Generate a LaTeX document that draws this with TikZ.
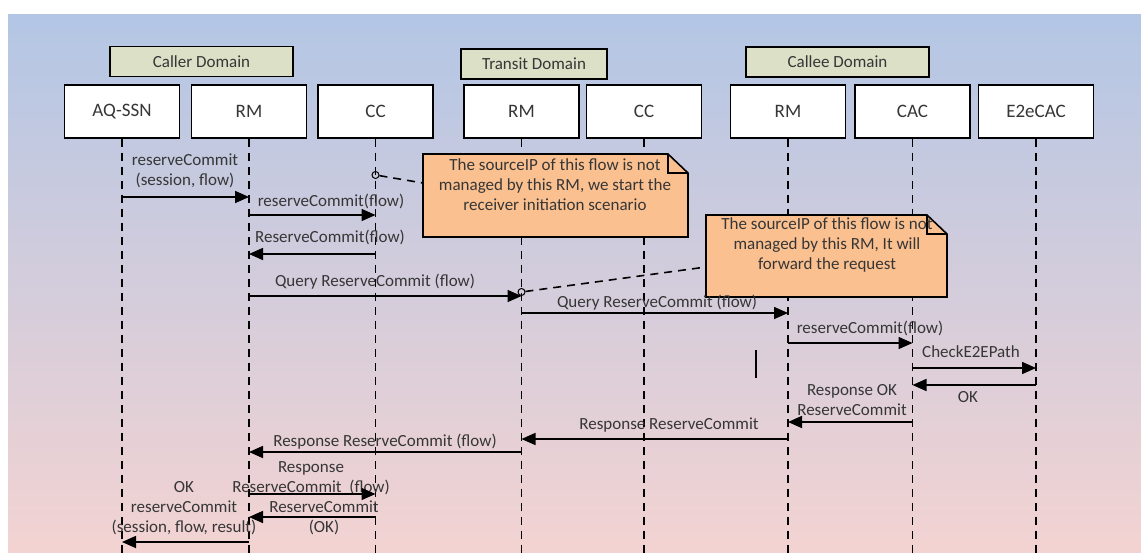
\documentclass[tikz,border=0pt]{standalone}
\usepackage{fontspec}
\setmainfont{Carlito}
\usetikzlibrary{arrows.meta}
\definecolor{bgtop}{HTML}{B3C6E5}
\definecolor{bgbot}{HTML}{F3D3D2}
\definecolor{notefill}{HTML}{FAC090}
\definecolor{domfill}{HTML}{DCE0C6}
\definecolor{txt}{HTML}{363636}
\begin{document}
\begin{tikzpicture}[x=1pt,y=-1pt,
  every node/.style={font=\fontsize{17}{20}\selectfont},
  party/.style={draw=black,line width=1.6pt,fill=white,minimum width=115pt,minimum height=53pt,inner sep=0pt,text=txt,font=\fontsize{19}{22}\selectfont},
  dombox/.style={draw=black,line width=1.6pt,fill=domfill,minimum height=30pt,inner sep=0pt,text=txt},
  life/.style={line width=1.6pt,dash pattern=on 8pt off 6pt},
  msg/.style={line width=1.6pt,-{Triangle[length=14pt,width=12pt]}},
  lbl/.style={text=txt,align=center,inner sep=0pt},
  notebox/.style={draw=black,line width=1.6pt,fill=notefill},
  hookmark/.style={circle,draw=black,line width=1pt,fill=none,minimum size=7pt,inner sep=0pt}]
\useasboundingbox (0,0) rectangle (1141,554);
\fill[white] (0,0) rectangle (1141,554);
\shade[top color=bgtop,bottom color=bgbot] (8,14) rectangle (1141,552);

\node[dombox,minimum width=183pt] (callerdom) at (201.5,61.5) {Caller Domain};
\node[dombox,minimum width=146pt] (transitdom) at (534,64) {Transit Domain};
\node[dombox,minimum width=183pt] (calleedom) at (837.5,62) {Callee Domain};

\node[party] (aqssn) at (122,111.5) {AQ-SSN};
\node[party] (rmA) at (249,111.5) {RM};
\node[party] (ccA) at (375.5,111.5) {CC};
\node[party] (rmB) at (521.5,111.5) {RM};
\node[party] (ccB) at (644,111.5) {CC};
\node[party] (rmC) at (788,111.5) {RM};
\node[party] (cac) at (912.5,111.5) {CAC};
\node[party] (e2e) at (1036,111.5) {E2eCAC};

\draw[life] (aqssn.south) -- (aqssn.south |- 0,554);
\draw[life] (rmA.south) -- (rmA.south |- 0,554);
\draw[life] (ccA.south) -- (ccA.south |- 0,554);
\draw[life] (rmB.south) -- (rmB.south |- 0,554);
\draw[life] (ccB.south) -- (ccB.south |- 0,554);
\draw[life] (rmC.south) -- (rmC.south |- 0,554);
\draw[life] (cac.south) -- (cac.south |- 0,554);
\draw[life] (e2e.south) -- (e2e.south |- 0,554);

\draw[notebox] (423,154) -- (668,154) -- (688,173) -- (688,237) -- (423,237) -- cycle;
\draw[line width=1.6pt] (668,154) -- (668,173) -- (688,173);
\coordinate (noteA) at (423,183);
\node[lbl] (noteAtext) at (555,185) {The sourceIP of this flow is not\\managed by this RM, we start the\\receiver initiation scenario};
\node[hookmark] (hookA) at (ccA |- 0,175) {};
\draw[life] (hookA) -- (noteA);

\draw[notebox] (706,215) -- (927,215) -- (947,234) -- (947,297) -- (706,297) -- cycle;
\draw[line width=1.6pt] (927,215) -- (927,234) -- (947,234);
\coordinate (noteB) at (706,267);
\node[lbl] (noteBtext) at (827,245) {The sourceIP of this flow is not\\managed by this RM, It will\\forward the request};
\node[hookmark] (hookB) at (rmB |- 0,292) {};
\draw[life] (hookB) -- (noteB);

\node[lbl] (m1) at (185,171) {reserveCommit\\(session, flow)};
\draw[msg] (aqssn |- 0,197) -- (rmA |- 0,197);
\node[lbl] (m2) at (331,201) {reserveCommit(flow)};
\draw[msg] (rmA |- 0,215) -- (ccA |- 0,215);
\node[lbl] (m3) at (330,237) {ReserveCommit(flow)};
\draw[msg] (ccA |- 0,254) -- (rmA |- 0,254);
\node[lbl] (m4) at (375,282) {Query ReserveCommit (flow)};
\draw[msg] (rmA |- 0,296) -- (rmB |- 0,296);
\node[lbl] (m5) at (657,303) {Query ReserveCommit (flow)};
\draw[msg] (rmB |- 0,313) -- (rmC |- 0,313);
\node[lbl] (m6) at (870,328) {reserveCommit(flow)};
\draw[msg] (rmC |- 0,343) -- (cac |- 0,343);
\node[lbl] (m7) at (971,352) {CheckE2EPath};
\draw[msg] (cac |- 0,368) -- (e2e |- 0,368);
\draw[msg] (e2e |- 0,385) -- (cac |- 0,385);
\node[lbl] (m8) at (968,397) {OK};
\node[lbl] (m9) at (852,400) {Response OK\\ReserveCommit};
\draw[msg] (cac |- 0,422) -- (rmC |- 0,422);
\node[lbl] (m10) at (669,425) {Response ReserveCommit};
\draw[msg] (rmC |- 0,439) -- (rmB |- 0,439);
\node[lbl] (m11) at (385,442) {Response ReserveCommit (flow)};
\draw[msg] (rmB |- 0,452) -- (rmA |- 0,452);
\node[lbl] (m12) at (311,478) {Response\\ReserveCommit\ \ (flow)};
\draw[msg] (rmA |- 0,494) -- (ccA |- 0,494);
\node[lbl] (m13) at (324,518) {ReserveCommit\\(OK)};
\draw[msg] (ccA |- 0,517) -- (rmA |- 0,517);
\node[lbl] (m14) at (184,508) {OK\\reserveCommit\\(session, flow, result)};
\draw[msg] (rmA |- 0,542) -- (aqssn |- 0,542);

\draw[line width=1.6pt] (756,350) -- (756,378);
\end{tikzpicture}
\end{document}
